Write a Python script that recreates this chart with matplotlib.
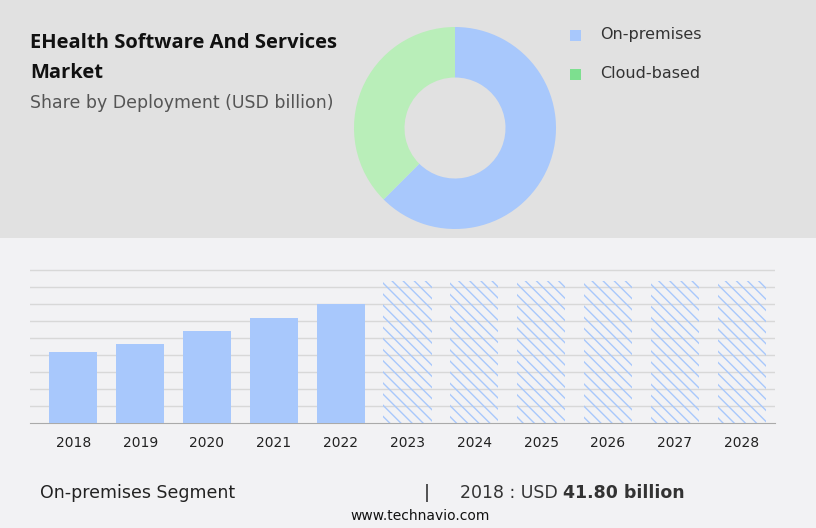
import matplotlib.pyplot as plt
from matplotlib.patches import Rectangle

W, H = 816, 528

years = ['2018', '2019', '2020', '2021', '2022', '2023', '2024', '2025', '2026', '2027', '2028']
actual = [41.8, 46.5, 54.1, 61.7, 70.1]
forecast = [83.8, 83.8, 83.8, 83.8, 83.8, 83.8]
segments = ['On-premises', 'Cloud-based']
shares = [62.5, 37.5]

blue = '#a8c8fc'
green_pie = '#b9eeb9'
green_leg = '#7ddf8f'

def px(x, y, w, h):
    # pixel box (from top-left) -> figure fraction rect
    return [x / W, 1 - (y + h) / H, w / W, h / H]

fig = plt.figure(figsize=(W / 100, H / 100), dpi=100)
fig.patch.set_facecolor('#f2f2f4')
bg = fig.add_axes(px(0, 0, W, 238), zorder=-5)
bg.set_facecolor('#e1e1e1')
bg.set_xticks([])
bg.set_yticks([])
for s in bg.spines.values():
    s.set_visible(False)

# titles
fig.text(30 / W, 1 - 43 / H, 'EHealth Software And Services', fontsize=14.5, fontweight='bold',
         color='#111111', va='center', family='Open Sans')
fig.text(30 / W, 1 - 73 / H, 'Market', fontsize=14.5, fontweight='bold',
         color='#111111', va='center', family='Open Sans')
fig.text(30 / W, 1 - 103 / H, 'Share by Deployment (USD billion)', fontsize=12.5,
         color='#555555', va='center', family='DejaVu Sans')

# donut
r = 101
ax_pie = fig.add_axes(px(455 - r, 128 - r, 2 * r, 2 * r))
ax_pie.pie(shares, colors=[blue, green_pie], startangle=90, counterclock=False,
           radius=1, wedgeprops=dict(width=0.5, linewidth=0))
ax_pie.set_xlim(-1, 1)
ax_pie.set_ylim(-1, 1)
ax_pie.set_aspect('equal')
ax_pie.axis('off')

# legend
for i, (lab, c) in enumerate(zip(segments, [blue, green_leg])):
    yy = 35 + 39 * i
    fig.patches.append(Rectangle((570 / W, 1 - (yy + 6) / H), 11 / W, 11 / H,
                                 transform=fig.transFigure, facecolor=c, edgecolor='none',
                                 zorder=5))
    fig.text(600 / W, 1 - yy / H, lab, fontsize=11.5, color='#333333', va='center')

# bars
ymax = 90.5
ax = fig.add_axes(px(30, 423.3 - 153 * ymax / 90, 745, 153 * ymax / 90))
ax.set_facecolor('none')
x_act = list(range(len(actual)))
x_fc = list(range(len(actual), len(years)))
ax.bar(x_act, actual, width=0.72, color=blue, zorder=3)
plt.rcParams['hatch.linewidth'] = 1.0
ax.bar(x_fc, forecast, width=0.72, facecolor='none', edgecolor=blue, linewidth=0,
       hatch='\\\\\\', zorder=3)
ax.set_xlim(-0.648, 10.5)
ax.set_ylim(0, ymax)
ax.set_yticks(range(10, 91, 10))
ax.yaxis.grid(True, color='#d8d8d8', linewidth=1)
ax.set_axisbelow(True)
ax.tick_params(axis='y', left=False, labelleft=False)
ax.set_xticks(range(len(years)))
ax.set_xticklabels(years, fontsize=10, color='#222222')
ax.tick_params(axis='x', length=0, pad=9)
for s in ['top', 'right', 'left']:
    ax.spines[s].set_visible(False)
ax.spines['bottom'].set_color('#aaaaaa')

# footer
fig.text(40 / W, 1 - 493 / H, 'On-premises Segment', fontsize=12.5, color='#222222', va='center')
fig.text(424 / W, 1 - 493 / H, '|', fontsize=13, color='#222222', va='center')
t = fig.text(460 / W, 1 - 493 / H, '2018 : USD ', fontsize=12.5, color='#333333', va='center')
fig.canvas.draw()
bb = t.get_window_extent()
fig.text(bb.x1 / W, 1 - 493 / H, '41.80 billion', fontsize=12.5, fontweight='bold',
         color='#333333', va='center')
fig.text(420 / W, 1 - 516 / H, 'www.technavio.com', fontsize=10, color='#111111',
         va='center', ha='center')

fig.savefig('out.png', dpi=100, facecolor=fig.get_facecolor())
